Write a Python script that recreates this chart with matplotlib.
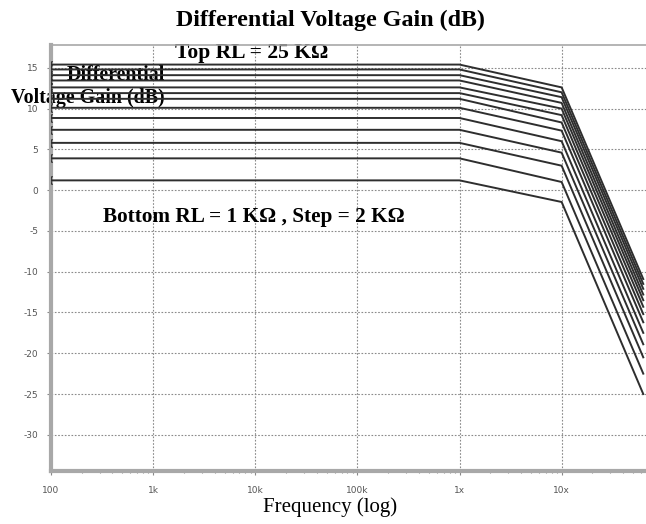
import matplotlib
matplotlib.use("Agg")
import matplotlib.pyplot as plt
from matplotlib.ticker import FixedLocator, MultipleLocator, LogLocator, NullFormatter

# ---- data ----
rl_kohm = [1, 3, 5, 7, 9, 11, 13, 15, 17, 19, 21, 23, 25]
freq_points = [100, 1e6, 1e7, 6.3e7]
gain_low = [1.2, 3.9, 5.8, 7.4, 8.85, 10.1, 11.2, 11.9, 12.6, 13.45, 14.1, 14.8, 15.4]
gain_1m = [1.2, 3.9, 5.8, 7.4, 8.85, 10.1, 11.2, 11.9, 12.6, 13.45, 14.1, 14.8, 15.4]
gain_10m = [-1.45, 1.0, 3.0, 4.6, 6.0, 7.3, 8.3, 9.2, 10.0, 10.7, 11.4, 12.0, 12.6]
gain_end = [-25.0, -22.5, -20.5, -18.9, -17.5, -16.2, -15.2, -14.3, -13.5, -12.8, -12.1, -11.5, -10.9]

x_ticks = [100, 1e3, 1e4, 1e5, 1e6, 1e7]
x_tick_labels = ["100", "1k", "10k", "100k", "1x", "10x"]
y_ticks = [15, 10, 5, 0, -5, -10, -15, -20, -25, -30]

W, H = 646, 524
fig = plt.figure(figsize=(W / 100, H / 100), dpi=100)
ax = fig.add_axes([51 / W, (H - 470.7) / H, (W - 51) / W, (470.7 - 45) / H])

serif = ["Liberation Serif", "DejaVu Serif"]

for i, rl in enumerate(rl_kohm):
    ys = [gain_low[i], gain_1m[i], gain_10m[i], gain_end[i]]
    ax.plot(freq_points, ys, color="#2e2e2e", lw=1.4, zorder=3,
            marker="$($", markevery=[0], markersize=6, markeredgewidth=0.4)

ax.set_xscale("log")
ax.set_xlim(100, 6.7e7)
ax.set_ylim(-34.4, 17.8)

ax.xaxis.set_major_locator(FixedLocator(x_ticks))
ax.set_xticklabels(x_tick_labels)
ax.xaxis.set_minor_locator(LogLocator(base=10, subs=range(2, 10)))
ax.xaxis.set_minor_formatter(NullFormatter())
ax.yaxis.set_major_locator(FixedLocator(y_ticks))
ax.set_yticklabels([str(v) for v in y_ticks])
ax.yaxis.set_minor_locator(MultipleLocator(1))

ax.tick_params(axis="both", which="major", labelsize=6.5, labelcolor="#555555",
               color="#888888", length=3, width=0.8, direction="out")
ax.tick_params(axis="both", which="minor", color="#888888", length=1.5, width=0.8,
               direction="out")
ax.tick_params(axis="x", pad=8)
ax.tick_params(axis="y", pad=6)

ax.grid(True, which="major", linestyle=(0, (1.5, 1.5)), color="#8a8a8a", lw=0.8)

for s in ["left", "bottom"]:
    ax.spines[s].set_color("#a8a8a8")
    ax.spines[s].set_linewidth(3)
ax.spines["top"].set_color("#a8a8a8")
ax.spines["top"].set_linewidth(1.2)
ax.spines["right"].set_visible(False)

# ---- texts ----
tf = fig.transFigure
fig.text(330 / W, 1 - 20 / H, "Differential Voltage Gain (dB)", ha="center", va="center",
         family=serif, weight="bold", fontsize=17.3)
ax.text(175 / W, 1 - 53 / H, "Top RL = 25 K\u03a9", ha="left", va="center",
        transform=tf, clip_on=False, family=serif, weight="bold", fontsize=15.6, zorder=2)
ax.text(165 / W, 1 - 75 / H, "Differential", ha="right", va="center",
        transform=tf, clip_on=False, family=serif, weight="bold", fontsize=14.4, zorder=2)
ax.text(165 / W, 1 - 98 / H, "Voltage Gain (dB)", ha="right", va="center",
        transform=tf, clip_on=False, family=serif, weight="bold", fontsize=14.4, zorder=2)
ax.text(103 / W, 1 - 217 / H, "Bottom RL = 1 K\u03a9 , Step = 2 K\u03a9", ha="left",
        va="center", transform=tf, clip_on=False, family=serif, weight="bold",
        fontsize=15.3, zorder=2)
fig.text(330 / W, 1 - 507 / H, "Frequency (log)", ha="center", va="center",
         family=serif, fontsize=15)

fig.savefig("out.png", dpi=100)
